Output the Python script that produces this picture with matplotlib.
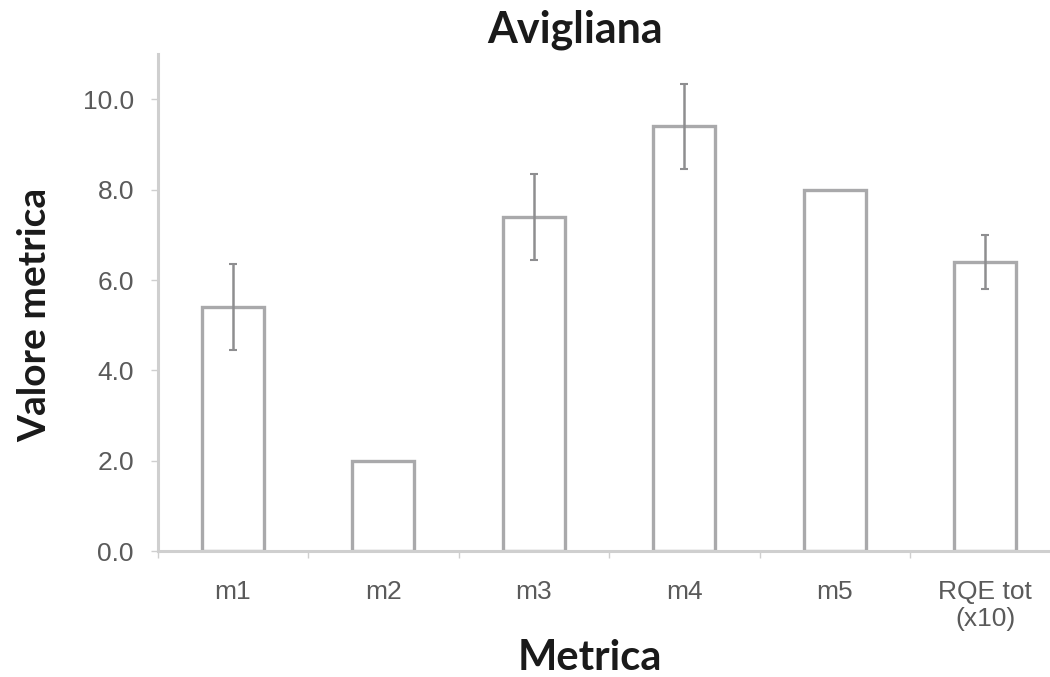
import matplotlib
matplotlib.use('Agg')
import matplotlib.pyplot as plt

categories = ['m1', 'm2', 'm3', 'm4', 'm5', 'RQE tot\n(x10)']
values = [5.4, 2.0, 7.4, 9.4, 8.0, 6.4]
errors = [0.95, 0, 0.95, 0.95, 0, 0.6]

bar_grey = '#a9a9ab'
axis_grey = '#cfcfcf'
label_grey = '#5a5a5a'

W, H = 1050, 677
fig = plt.figure(figsize=(W / 100, H / 100), dpi=100)
ax = fig.add_axes([0.150, 0.186, 0.860, 0.734])

x = range(len(categories))
ax.bar(x, values, width=0.41, facecolor='white', edgecolor=bar_grey, linewidth=2.4, zorder=2)

# error bars only where a spread was measured
ex = [i for i in x if errors[i] > 0]
ax.errorbar(ex, [values[i] for i in ex], yerr=[errors[i] for i in ex],
            fmt='none', ecolor='#8e8e90', elinewidth=1.8, capsize=3, capthick=1.5, zorder=3)

ax.set_xlim(-0.5, 5.41)
ax.set_ylim(0, 11)
ax.set_yticks([0, 2, 4, 6, 8, 10])
ax.set_yticklabels(['0.0', '2.0', '4.0', '6.0', '8.0', '10.0'])
ax.set_xticks(list(x))
ax.set_xticklabels(categories)
ax.set_xticks([i + 0.5 for i in range(-1, 6)], minor=True)

for s in ['top', 'right']:
    ax.spines[s].set_visible(False)
for s in ['left', 'bottom']:
    ax.spines[s].set_color(axis_grey)
    ax.spines[s].set_linewidth(2.2)

ax.tick_params(axis='y', which='major', length=5, width=1, color=axis_grey,
               labelsize=19, labelcolor=label_grey, pad=12)
ax.tick_params(axis='x', which='major', length=0, labelsize=19,
               labelcolor=label_grey, pad=21)
ax.tick_params(axis='x', which='minor', length=5, width=1, color=axis_grey)
for lbl in ax.get_xticklabels() + ax.get_yticklabels():
    lbl.set_fontfamily('Liberation Sans')
    lbl.set_linespacing(1.15)

bold = dict(fontweight='bold', family='Lato', color='#1a1a1a', ha='center', va='center')
fig.text(575 / W, 1 - 30 / H, 'Avigliana', fontsize=31, **bold)
fig.text(35 / W, 1 - 315 / H, 'Valore metrica', fontsize=28, rotation=90, **bold)
fig.text(590 / W, 1 - 658 / H, 'Metrica', fontsize=30, **bold)

fig.savefig('out.png', dpi=100)
